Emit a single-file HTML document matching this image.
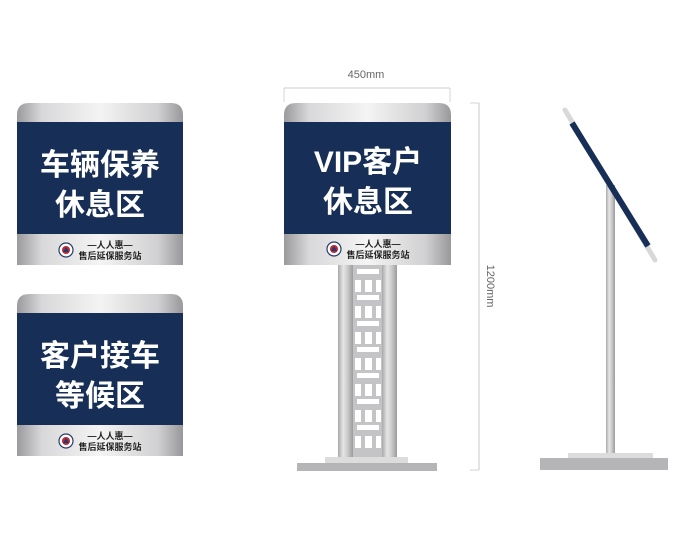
<!DOCTYPE html>
<html><head><meta charset="utf-8"><style>
html,body{margin:0;padding:0;background:#fff;}
svg{display:block}
</style></head><body>
<svg width="700" height="538" viewBox="0 0 700 538" xmlns="http://www.w3.org/2000/svg" font-family="'Liberation Sans','Noto Sans CJK SC',sans-serif">
<defs>
<linearGradient id="sil" x1="0" y1="0" x2="1" y2="0">
<stop offset="0" stop-color="#9a9a9c"/><stop offset="0.15" stop-color="#d8d8da"/><stop offset="0.5" stop-color="#f4f4f4"/><stop offset="0.85" stop-color="#d0d0d2"/><stop offset="1" stop-color="#98989a"/>
</linearGradient>
<linearGradient id="post" x1="0" y1="0" x2="1" y2="0">
<stop offset="0" stop-color="#a8a8aa"/><stop offset="0.35" stop-color="#e6e6e6"/><stop offset="0.6" stop-color="#cfcfd0"/><stop offset="1" stop-color="#9c9c9e"/>
</linearGradient>
<g id="logo">
<circle cx="0" cy="0" r="7" fill="#fff" stroke="#2a3a6a" stroke-width="1.2"/>
<circle cx="0" cy="0" r="4" fill="#c0282d"/>
<path d="M-3 2 L0 -3 L3 2 Z" fill="#1f3a7a"/>
</g>
</defs>

<!-- Sign 1 -->
<path d="M17 265 V115 Q17 103 29 103 H171 Q183 103 183 115 V265 Z" fill="url(#sil)"/>
<rect x="17" y="122" width="166" height="112" fill="#172e57"/>
<text x="100" y="175" font-size="30" font-weight="bold" fill="#fff" text-anchor="middle">车辆保养</text>
<text x="100" y="215" font-size="30" font-weight="bold" fill="#fff" text-anchor="middle">休息区</text>
<use href="#logo" x="66" y="250"/>
<text x="110" y="248" font-size="9" font-weight="bold" fill="#222" text-anchor="middle">—人人惠—</text>
<text x="110" y="259" font-size="9" font-weight="bold" fill="#222" text-anchor="middle">售后延保服务站</text>

<!-- Sign 2 -->
<path d="M17 456 V306 Q17 294 29 294 H171 Q183 294 183 306 V456 Z" fill="url(#sil)"/>
<rect x="17" y="313" width="166" height="112" fill="#172e57"/>
<text x="100" y="366" font-size="30" font-weight="bold" fill="#fff" text-anchor="middle">客户接车</text>
<text x="100" y="406" font-size="30" font-weight="bold" fill="#fff" text-anchor="middle">等候区</text>
<use href="#logo" x="66" y="441"/>
<text x="110" y="439" font-size="9" font-weight="bold" fill="#222" text-anchor="middle">—人人惠—</text>
<text x="110" y="450" font-size="9" font-weight="bold" fill="#222" text-anchor="middle">售后延保服务站</text>

<!-- Middle dimension -->
<text x="366" y="78" font-size="11" fill="#666" text-anchor="middle">450mm</text>
<line x1="284" y1="88" x2="450" y2="88" stroke="#bbb" stroke-width="0.8"/>
<line x1="284" y1="88" x2="284" y2="102" stroke="#ccc" stroke-width="0.8"/>
<line x1="450" y1="88" x2="450" y2="102" stroke="#ccc" stroke-width="0.8"/>
<line x1="479" y1="103" x2="479" y2="470" stroke="#bbb" stroke-width="0.8"/>
<line x1="470" y1="103" x2="479" y2="103" stroke="#ccc" stroke-width="0.8"/>
<line x1="470" y1="470" x2="479" y2="470" stroke="#ccc" stroke-width="0.8"/>
<text x="0" y="0" font-size="11" fill="#666" text-anchor="middle" transform="translate(487,286) rotate(90)">1200mm</text>

<!-- Middle posts -->
<rect x="353" y="265" width="30" height="193" fill="#c4c4c6"/>
<g fill="#fff">
<rect x="357" y="269" width="22" height="5"/>
<rect x="355" y="280" width="6" height="12"/><rect x="365" y="280" width="7" height="12"/><rect x="376" y="280" width="5" height="12"/>
<rect x="357" y="295" width="22" height="5"/>
<rect x="355" y="306" width="6" height="12"/><rect x="365" y="306" width="7" height="12"/><rect x="376" y="306" width="5" height="12"/>
<rect x="357" y="321" width="22" height="5"/>
<rect x="355" y="332" width="6" height="12"/><rect x="365" y="332" width="7" height="12"/><rect x="376" y="332" width="5" height="12"/>
<rect x="357" y="347" width="22" height="5"/>
<rect x="355" y="358" width="6" height="12"/><rect x="365" y="358" width="7" height="12"/><rect x="376" y="358" width="5" height="12"/>
<rect x="357" y="373" width="22" height="5"/>
<rect x="355" y="384" width="6" height="12"/><rect x="365" y="384" width="7" height="12"/><rect x="376" y="384" width="5" height="12"/>
<rect x="357" y="399" width="22" height="5"/>
<rect x="355" y="410" width="6" height="12"/><rect x="365" y="410" width="7" height="12"/><rect x="376" y="410" width="5" height="12"/>
<rect x="357" y="425" width="22" height="5"/>
<rect x="355" y="436" width="6" height="12"/><rect x="365" y="436" width="7" height="12"/><rect x="376" y="436" width="5" height="12"/>
</g>
<rect x="338" y="265" width="15" height="193" fill="url(#post)"/>
<rect x="382" y="265" width="15" height="193" fill="url(#post)"/>
<rect x="325" y="457" width="83" height="6" fill="#dcdcdc"/>
<rect x="297" y="463" width="140" height="8" fill="#b5b5b7"/>

<!-- Middle sign -->
<path d="M284 265 V115 Q284 103 296 103 H439 Q451 103 451 115 V265 Z" fill="url(#sil)"/>
<rect x="284" y="122" width="167" height="112" fill="#172e57"/>
<text x="368" y="172" font-size="30" font-weight="bold" fill="#fff" text-anchor="middle">VIP客户</text>
<text x="368" y="212" font-size="30" font-weight="bold" fill="#fff" text-anchor="middle">休息区</text>
<use href="#logo" x="334" y="249"/>
<text x="378" y="247" font-size="9" font-weight="bold" fill="#222" text-anchor="middle">—人人惠—</text>
<text x="378" y="258" font-size="9" font-weight="bold" fill="#222" text-anchor="middle">售后延保服务站</text>

<!-- Side view -->
<rect x="606" y="185" width="9" height="273" fill="url(#post)"/>
<line x1="565" y1="110" x2="655" y2="260" stroke="#d8d8d8" stroke-width="5" stroke-linecap="round"/>
<line x1="572" y1="123" x2="648" y2="246" stroke="#172e57" stroke-width="6"/>
<rect x="568" y="453" width="85" height="5" fill="#dcdcdc"/>
<rect x="540" y="458" width="128" height="12" fill="#b5b5b7"/>
</svg>
</body></html>
